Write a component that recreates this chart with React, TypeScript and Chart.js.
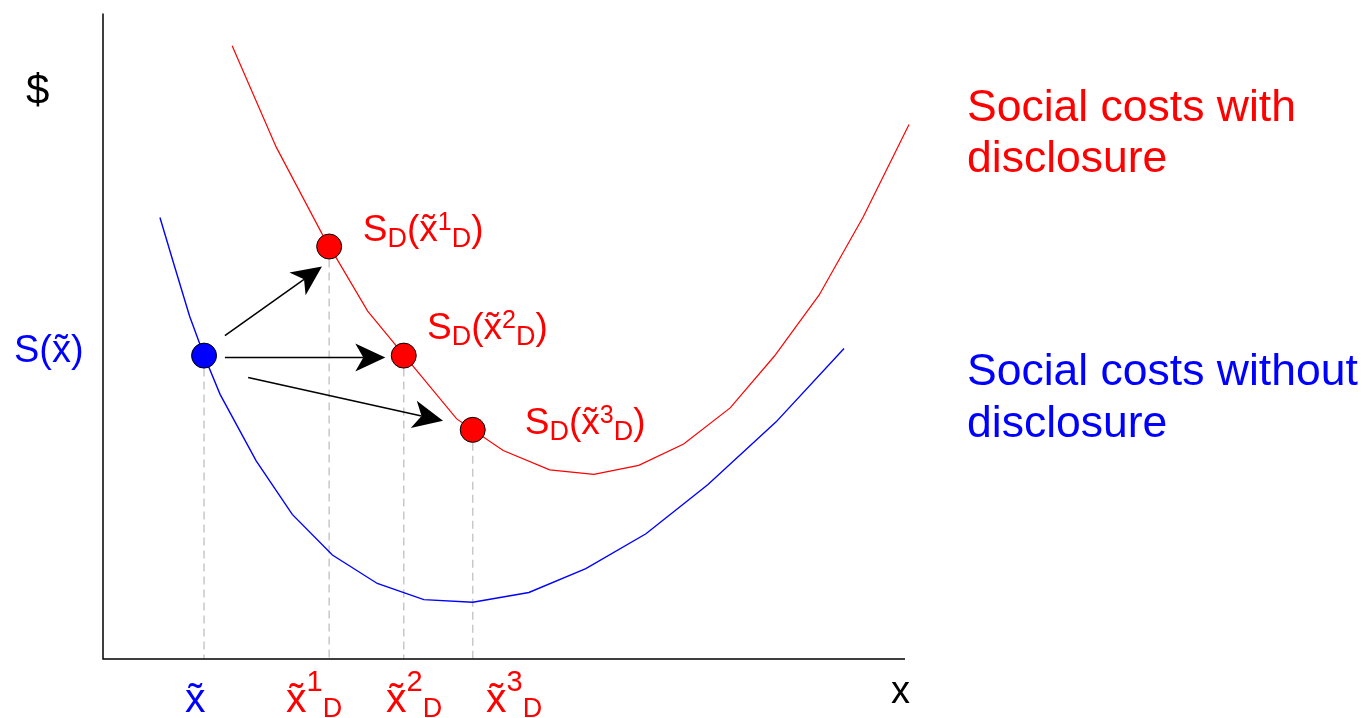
import React, { useEffect, useRef } from "react";
import { Chart, registerables } from "chart.js";

Chart.register(...registerables);

// Curve: social costs with disclosure (red)
const redX = [1.61, 2.16, 2.73, 3.30, 3.85, 4.41, 4.99, 5.57, 6.12, 6.68, 7.24, 7.82, 8.37, 8.93, 9.48, 10.05];
const redY = [9.50, 7.93, 6.59, 5.39, 4.56, 3.72, 3.23, 2.93, 2.86, 3.00, 3.33, 3.89, 4.69, 5.64, 6.85, 8.28];

// Curve: social costs without disclosure (blue)
const blueX = [0.71, 0.90, 1.08, 1.26, 1.46, 1.91, 2.36, 2.86, 3.42, 4.00, 4.61, 5.31, 6.02, 6.77, 7.54, 8.39, 9.24];
const blueY = [6.84, 6.05, 5.31, 4.70, 4.10, 3.07, 2.24, 1.61, 1.17, 0.92, 0.88, 1.03, 1.40, 1.94, 2.70, 3.67, 4.81];

// Marked points
const bluePointX = [1.26];
const bluePointY = [4.70];
const redPointX = [2.82, 3.75, 4.61];
const redPointY = [6.39, 4.70, 3.55];

// Arrows (from -> to)
const arrowFromX = [1.52, 1.52, 1.81];
const arrowFromY = [5.01, 4.67, 4.36];
const arrowToX = [2.73, 3.52, 4.24];
const arrowToY = [6.08, 4.67, 3.69];

// Point labels anchor (data coords)
const pointLabelX = [3.24, 4.04, 5.26];
const pointLabelY = [6.48, 4.95, 3.49];
const pointLabelSup = ["1", "2", "3"];

// Axis tick labels
const tickSup = ["1", "2", "3"];

const FONT = "'Liberation Sans', Arial, sans-serif";
const RED = "#ff0000";
const BLUE = "#0000ff";
const XT = "x\u0303";

type Seg = { t: string; size: number; dy: number };

function drawRich(ctx: CanvasRenderingContext2D, x: number, y: number, segs: Seg[], color: string) {
  ctx.fillStyle = color;
  ctx.textBaseline = "alphabetic";
  ctx.textAlign = "left";
  let cx = x;
  for (const s of segs) {
    ctx.font = `${s.size}px ${FONT}`;
    ctx.fillText(s.t, cx, y + s.dy);
    cx += ctx.measureText(s.t).width;
  }
}

const overlay = {
  id: "overlay",
  afterDatasetsDraw(chart: any) {
    const ctx: CanvasRenderingContext2D = chart.ctx;
    const xs = chart.scales.x;
    const ys = chart.scales.y;
    const area = chart.chartArea;
    ctx.save();
    // axes
    ctx.strokeStyle = "#000";
    ctx.lineWidth = 1.5;
    ctx.beginPath();
    ctx.moveTo(area.left, area.top);
    ctx.lineTo(area.left, area.bottom);
    ctx.lineTo(area.right, area.bottom);
    ctx.stroke();

    // arrows
    for (let i = 0; i < arrowFromX.length; i++) {
      const x1 = xs.getPixelForValue(arrowFromX[i]);
      const y1 = ys.getPixelForValue(arrowFromY[i]);
      const x2 = xs.getPixelForValue(arrowToX[i]);
      const y2 = ys.getPixelForValue(arrowToY[i]);
      const ang = Math.atan2(y2 - y1, x2 - x1);
      const L = 30, W = 14, N = 8;
      const bx = x2 - L * Math.cos(ang);
      const by = y2 - L * Math.sin(ang);
      ctx.strokeStyle = "#000";
      ctx.lineWidth = 1.5;
      ctx.beginPath();
      ctx.moveTo(x1, y1);
      ctx.lineTo(x2 - (L - N) * Math.cos(ang), y2 - (L - N) * Math.sin(ang));
      ctx.stroke();
      ctx.fillStyle = "#000";
      ctx.beginPath();
      ctx.moveTo(x2, y2);
      ctx.lineTo(bx - W * Math.sin(ang), by + W * Math.cos(ang));
      ctx.lineTo(x2 - (L - N) * Math.cos(ang), y2 - (L - N) * Math.sin(ang));
      ctx.lineTo(bx + W * Math.sin(ang), by - W * Math.cos(ang));
      ctx.closePath();
      ctx.fill();
    }

    // "$" label
    ctx.fillStyle = "#000";
    ctx.font = `42px ${FONT}`;
    ctx.textBaseline = "alphabetic";
    ctx.fillText("$", 26, 104);
    // x axis label
    ctx.font = `38px ${FONT}`;
    ctx.fillText("x", 891, 703);

    // S(x~) on the y axis
    drawRich(ctx, 14, 362, [{ t: "S(" + XT + ")", size: 38, dy: 0 }], BLUE);

    // point labels
    for (let i = 0; i < pointLabelX.length; i++) {
      const px = xs.getPixelForValue(pointLabelX[i]);
      const py = ys.getPixelForValue(pointLabelY[i]);
      drawRich(ctx, px, py, [
        { t: "S", size: 37, dy: 0 },
        { t: "D", size: 27, dy: 6 },
        { t: "(" + XT, size: 37, dy: 0 },
        { t: pointLabelSup[i], size: 25, dy: -11 },
        { t: "D", size: 27, dy: 6 },
        { t: ")", size: 37, dy: 0 },
      ], RED);
    }

    // x axis tick labels
    drawRich(ctx, 185, 712, [{ t: XT, size: 41, dy: 0 }], BLUE);
    const tickStart = [286, 386, 486];
    for (let i = 0; i < tickSup.length; i++) {
      drawRich(ctx, tickStart[i], 712, [
        { t: XT, size: 41, dy: 0 },
        { t: tickSup[i], size: 29, dy: -21 },
        { t: "D", size: 27, dy: 5 },
      ], RED);
    }

    // right side legend text
    ctx.textAlign = "left";
    ctx.font = `44.5px ${FONT}`;
    ctx.fillStyle = RED;
    ctx.fillText("Social costs with", 967, 121);
    ctx.fillText("disclosure", 967, 172);
    ctx.fillStyle = BLUE;
    ctx.fillText("Social costs without", 967, 385);
    ctx.fillText("disclosure", 967, 437);
    ctx.restore();
  },
};

export default function App() {
  const ref = useRef<HTMLCanvasElement | null>(null);
  useEffect(() => {
    document.body.style.margin = "0";
    if (!ref.current) return;
    const dashSets = [
      ...bluePointX.map((x, i) => ({ x, y: bluePointY[i] })),
      ...redPointX.map((x, i) => ({ x, y: redPointY[i] })),
    ].map((p) => ({
      type: "line" as const,
      data: [{ x: p.x, y: p.y }, { x: p.x, y: 0 }],
      borderColor: "#c8c8c8",
      borderWidth: 1.5,
      borderDash: [8, 5],
      pointRadius: 0,
      showLine: true,
      order: 3,
      clip: false as any,
    }));
    const chart = new Chart(ref.current, {
      type: "scatter",
      data: {
        datasets: [
          {
            data: bluePointX.map((x, i) => ({ x, y: bluePointY[i] })),
            backgroundColor: BLUE,
            borderColor: "#000",
            borderWidth: 1,
            pointRadius: 12.5,
            order: 0,
            clip: false as any,
          },
          {
            data: redPointX.map((x, i) => ({ x, y: redPointY[i] })),
            backgroundColor: RED,
            borderColor: "#000",
            borderWidth: 1,
            pointRadius: 12.5,
            order: 0,
            clip: false as any,
          },
          {
            data: redX.map((x, i) => ({ x, y: redY[i] })),
            showLine: true,
            borderColor: RED,
            borderWidth: 1.2,
            pointRadius: 0,
            tension: 0,
            order: 1,
            clip: false as any,
          },
          {
            data: blueX.map((x, i) => ({ x, y: blueY[i] })),
            showLine: true,
            borderColor: BLUE,
            borderWidth: 1.4,
            pointRadius: 0,
            tension: 0,
            order: 1,
            clip: false as any,
          },
          ...(dashSets as any[]),
        ],
      },
      options: {
        animation: false,
        responsive: false,
        maintainAspectRatio: false,
        layout: { padding: { left: 103, right: 464, top: 8, bottom: 59 } },
        scales: {
          x: { type: "linear", min: 0, max: 10, display: false },
          y: { type: "linear", min: 0, max: 10, display: false },
        },
        plugins: { legend: { display: false }, tooltip: { enabled: false } },
      },
      plugins: [overlay],
    });
    return () => chart.destroy();
  }, []);
  return (
    <div style={{ width: 1369, height: 718, background: "#fff" }}>
      <canvas ref={ref} width={1369} height={718} style={{ display: "block" }} />
    </div>
  );
}
